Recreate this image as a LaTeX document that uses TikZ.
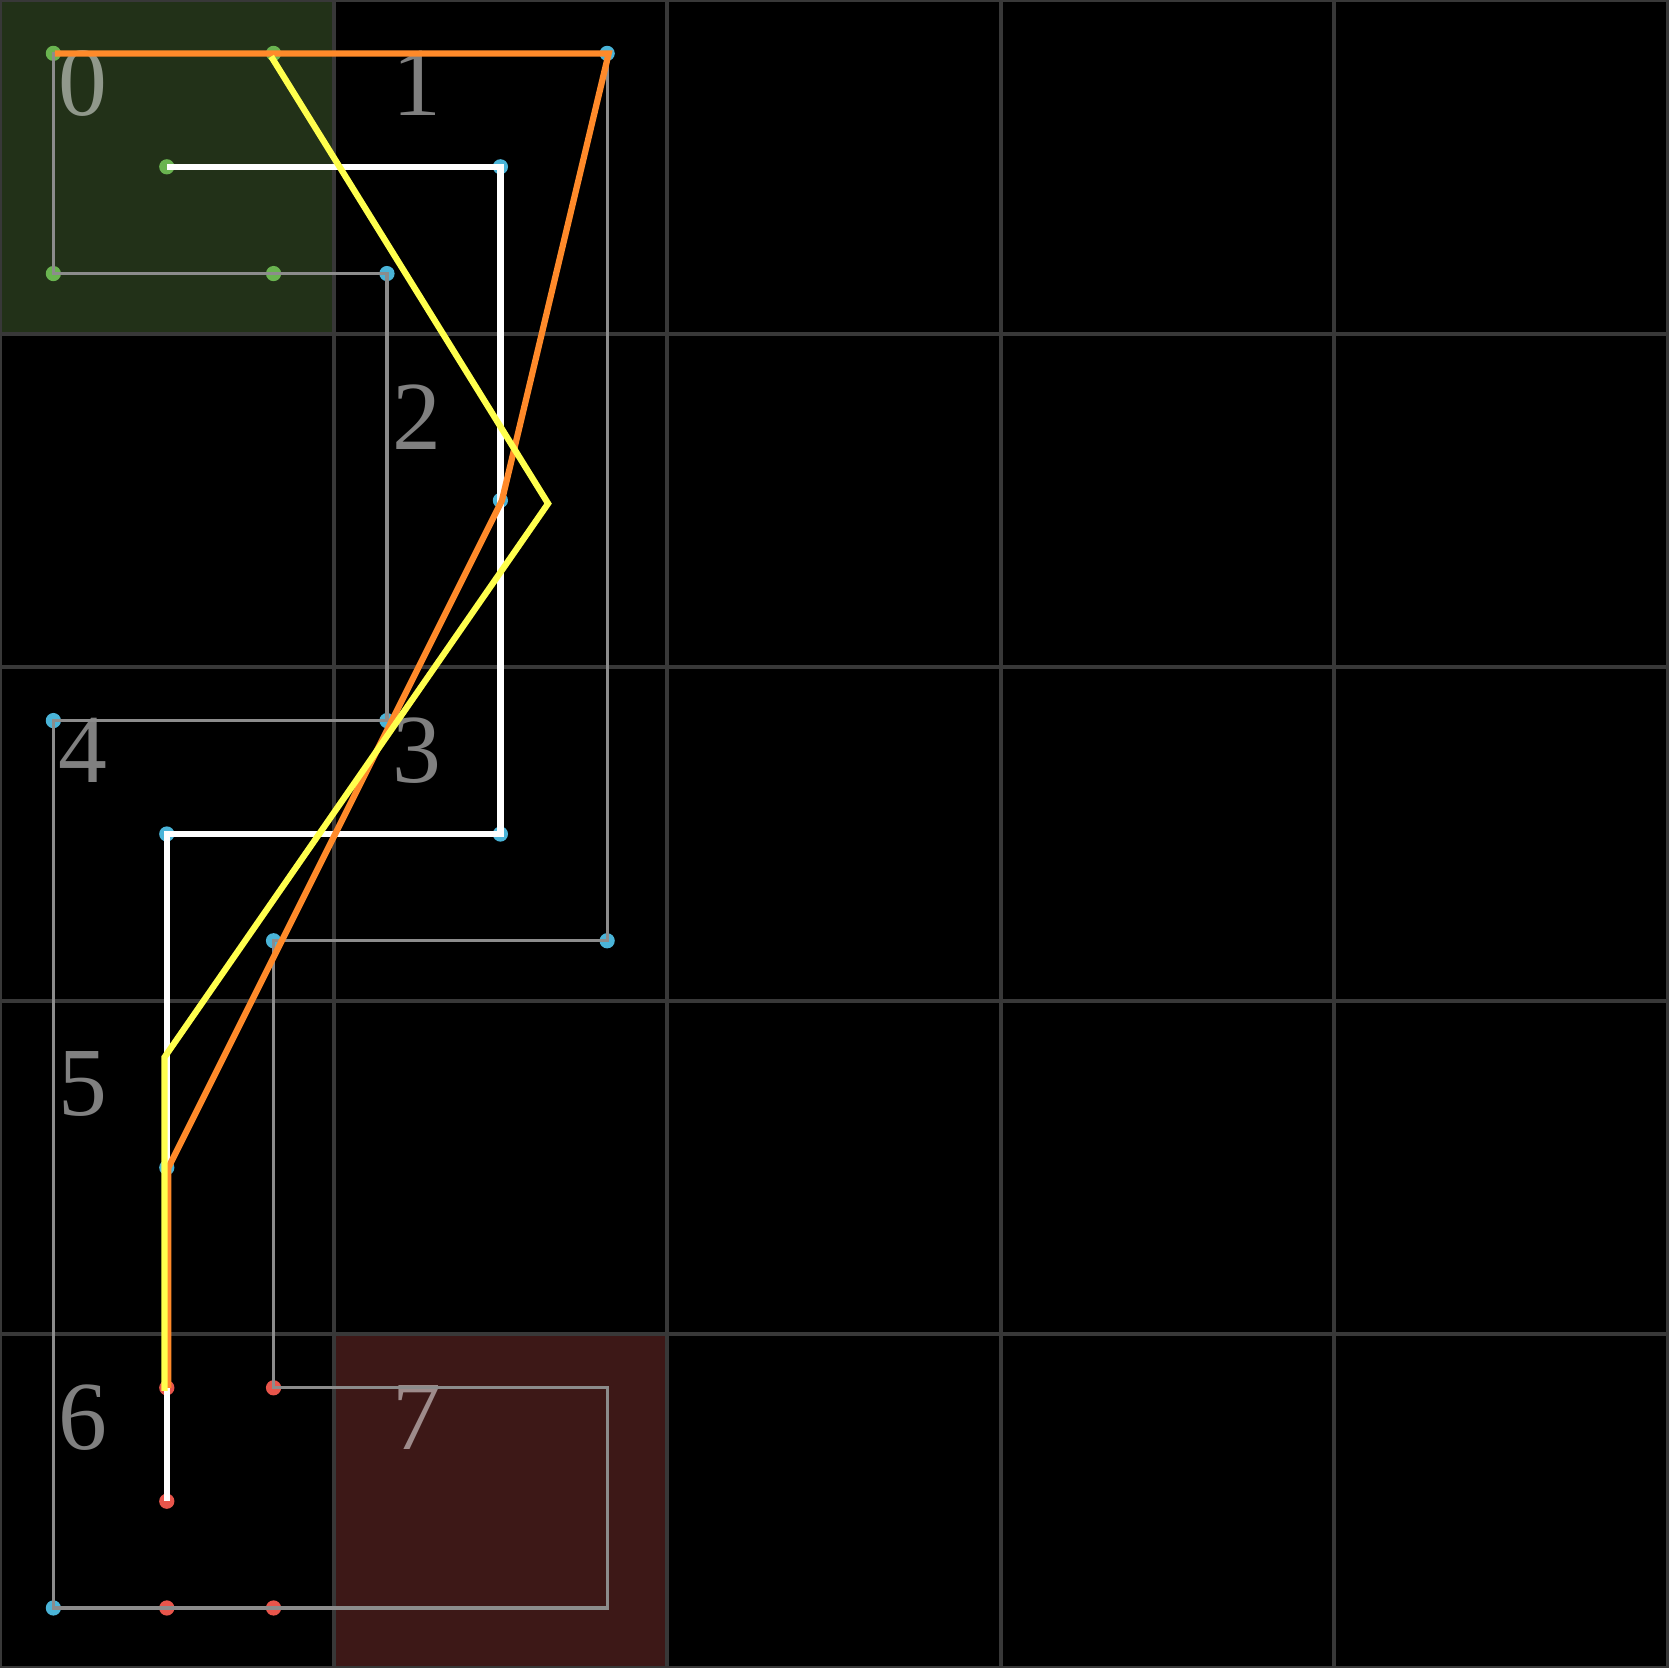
\documentclass[tikz,border=0pt]{standalone}
\usepackage{fontspec}
\setmainfont{Liberation Serif}
\definecolor{cellgrid}{HTML}{383838}
\definecolor{startcell}{HTML}{223118}
\definecolor{goalcell}{HTML}{3D1817}
\definecolor{wallgray}{HTML}{8C8C8C}
\definecolor{ptgreen}{HTML}{6AB450}
\definecolor{ptblue}{HTML}{4AB4D8}
\definecolor{ptred}{HTML}{E8554B}
\definecolor{routeorange}{HTML}{FF8A2A}
\definecolor{routeyellow}{HTML}{FFFF4D}
\tikzset{
  board/.style={x=3cm, y=-3cm, line join=miter},
  gridln/.style={draw=cellgrid, line width=1pt},
  wall/.style={draw=wallgray, line width=0.8pt},
  ptdot/.style={circle, inner sep=0pt, minimum size=3.9pt},
  cellno/.style={font=\fontsize{25}{25}\selectfont, text=white, text opacity=0.5, inner sep=0pt},
  route/.style={line width=1.6pt},
}
\newcommand{\waypt}[3]{\node[ptdot, fill=#3] (#1) at (#2) {};}

\begin{document}
\begin{tikzpicture}[board]
  \useasboundingbox (0,0) rectangle (5,5);
  % board, start and goal cells
  \fill[black] (0,0) rectangle (5,5);
  \fill[startcell] (0,0) rectangle (1,1);
  \fill[goalcell] (1,4) rectangle (2,5);
  \foreach \i in {0,...,5}
    \draw[gridln] (\i,0) -- (\i,5) (0,\i) -- (5,\i);
  % cell numbers
  \foreach \n/\c/\r in {0/0/0, 1/1/0, 2/1/1, 3/1/2, 4/0/2, 5/0/3, 6/0/4, 7/1/4}
    \node[cellno] (no\n) at (\c+0.25,\r+0.25) {\n};
  % way points
  \waypt{g1}{0.16,0.16}{ptgreen}
  \waypt{g2}{0.82,0.16}{ptgreen}
  \waypt{g3}{0.5,0.5}{ptgreen}
  \waypt{g4}{0.16,0.82}{ptgreen}
  \waypt{g5}{0.82,0.82}{ptgreen}
  \waypt{b1}{1.82,0.16}{ptblue}
  \waypt{b2}{1.5,0.5}{ptblue}
  \waypt{b3}{1.16,0.82}{ptblue}
  \waypt{b4}{1.5,1.5}{ptblue}
  \waypt{b5}{1.16,2.16}{ptblue}
  \waypt{b6}{0.16,2.16}{ptblue}
  \waypt{b7}{0.5,2.5}{ptblue}
  \waypt{b8}{1.5,2.5}{ptblue}
  \waypt{b9}{0.82,2.82}{ptblue}
  \waypt{b10}{1.82,2.82}{ptblue}
  \waypt{b11}{0.5,3.5}{ptblue}
  \waypt{b12}{0.16,4.82}{ptblue}
  \waypt{r1}{0.5,4.16}{ptred}
  \waypt{r2}{0.82,4.16}{ptred}
  \waypt{r3}{0.5,4.5}{ptred}
  \waypt{r4}{0.5,4.82}{ptred}
  \waypt{r5}{0.82,4.82}{ptred}
  \coordinate (w1) at (1.82,4.82);
  \coordinate (w2) at (1.82,4.16);
  \coordinate (y1) at (1.65,1.5);
  \coordinate (y2) at (0.5,3.16);
  % corridor outline
  \draw[wall] (g1.center) -- (g4.center) -- (b3.center) -- (b5.center)
    -- (b6.center) -- (b12.center) -- (w1) -- (w2) -- (r2.center)
    -- (b9.center) -- (b10.center) -- (b1.center) -- cycle;
  % routes
  \draw[route, white] (g3.center) -- (b2.center) -- (b8.center)
    -- (b7.center) -- (r3.center);
  \draw[route, routeorange, transform canvas={xshift=0.4pt}] (g1.center)
    -- (b1.center) -- (b4.center) -- (b11.center) -- (r1.center);
  \draw[route, routeyellow, transform canvas={xshift=-0.6pt, yshift=-0.8pt}]
    (g2.center) -- (y1) -- (y2) -- (r1.center);
\end{tikzpicture}
\end{document}
